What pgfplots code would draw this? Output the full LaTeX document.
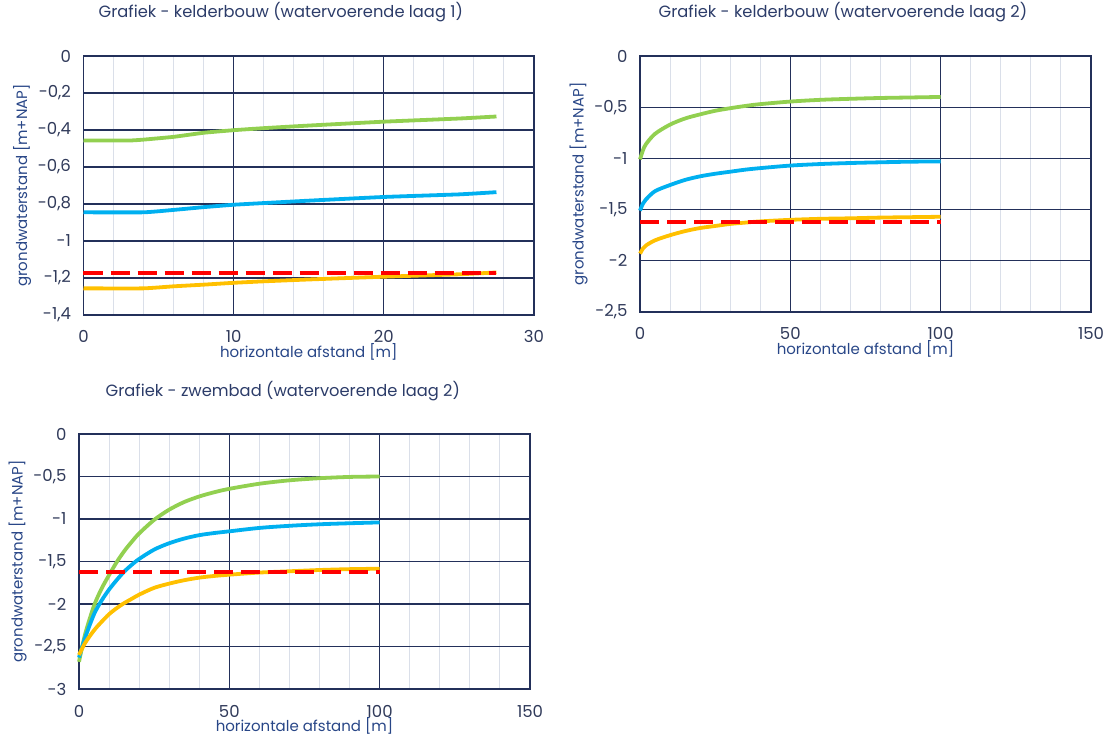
\documentclass[border=0pt]{standalone}
\usepackage{pgfplots}
\pgfplotsset{compat=1.18}
\usepackage{fontspec}
\setmainfont{Poppins}
\definecolor{navy}{RGB}{35,48,90}
\definecolor{minorgray}{RGB}{218,223,233}
\definecolor{cgreen}{RGB}{146,208,80}
\definecolor{cblue}{RGB}{0,176,240}
\definecolor{cyellow}{RGB}{255,192,0}
\definecolor{cred}{RGB}{255,0,0}
\definecolor{ticktext}{RGB}{48,58,90}
\definecolor{labeltext}{RGB}{40,70,135}
\definecolor{titletext}{RGB}{44,60,105}

\pgfplotsset{
  myax/.style={
    scale only axis,
    anchor=north west,
    axis line style={navy, line width=1.4pt},
    major grid style={navy, line width=1.1pt},
    minor grid style={minorgray, line width=1pt},
    xmajorgrids=true, ymajorgrids=true, xminorgrids=true,
    minor x tick num=4,
    major tick length=0pt, minor tick length=0pt,
    tick style={draw=none},
    /pgf/number format/use comma,
    /pgf/number format/assume math mode=true,
    tick label style={font=\fontsize{16.5}{18}\selectfont, text=ticktext},
    xticklabel style={anchor=base, yshift=-28pt},
    yticklabel style={anchor=east, xshift=-9pt},
    xlabel={horizontale afstand [m]},
    ylabel={grondwaterstand [m+NAP]},
    xlabel style={font=\fontsize{15}{17}\selectfont, text=labeltext, at={(axis description cs:0.5,0)}, anchor=center, yshift=-37pt},
    ylabel style={font=\fontsize{15}{17}\selectfont, text=labeltext, at={(axis description cs:-0.136,0.5)}, anchor=center},
    title style={font=\fontsize{16.3}{18}\selectfont, text=titletext, anchor=center, yshift=38pt},
    clip=false,
  },
  gline/.style={cgreen, line width=3.8pt, smooth, tension=0.5},
  bline/.style={cblue, line width=3.8pt, smooth, tension=0.5},
  yline/.style={cyellow, line width=3.8pt, smooth, tension=0.5},
  rline/.style={cred, line width=4pt, dash pattern=on 19pt off 8pt},
}

\begin{document}
\begin{tikzpicture}
\useasboundingbox (0,0) rectangle (1114pt,-738pt);

% Plot 1
\begin{axis}[myax,
  at={(83.5pt,-56pt)}, width=450.5pt, height=259pt,
  xmin=0, xmax=30, ymin=-1.4, ymax=0,
  xtick={0,10,20,30}, ytick={-1.4,-1.2,-1,-0.8,-0.6,-0.4,-0.2,0},
  title={Grafiek - kelderbouw (watervoerende laag 1)},
  title style={at={(axis description cs:0.438,1)}},
]
\addplot[gline, tension=0.25] coordinates {(0,-0.457) (3,-0.457) (4,-0.452) (6,-0.437) (8,-0.415) (10,-0.401) (12,-0.39) (15,-0.376) (20,-0.355) (25,-0.338) (27.5,-0.327)};
\addplot[bline, tension=0.25] coordinates {(0,-0.845) (4,-0.845) (6,-0.832) (8,-0.817) (10,-0.804) (12,-0.795) (15,-0.782) (20,-0.762) (25,-0.748) (27.5,-0.736)};
\addplot[yline, tension=0.25] coordinates {(0,-1.256) (4,-1.256) (6,-1.245) (8,-1.236) (10,-1.226) (12,-1.218) (15,-1.208) (20,-1.193) (25,-1.18) (27.5,-1.17)};
\addplot[rline] coordinates {(0,-1.175) (27.5,-1.175)};
\end{axis}

% Plot 2
\begin{axis}[myax,
  at={(640pt,-56pt)}, width=451pt, height=256pt,
  xmin=0, xmax=150, ymin=-2.5, ymax=0,
  xtick={0,50,100,150}, ytick={-2.5,-2,-1.5,-1,-0.5,0},
  title={Grafiek - kelderbouw (watervoerende laag 2)},
  title style={at={(axis description cs:0.45,1)}},
]
\addplot[gline] coordinates {(0,-1.01) (1,-0.92) (2,-0.86) (5,-0.76) (10,-0.67) (15,-0.61) (20,-0.57) (25,-0.535) (30,-0.51) (35,-0.488) (40,-0.47) (50,-0.445) (60,-0.428) (70,-0.418) (80,-0.41) (90,-0.405) (100,-0.40)};
\addplot[bline] coordinates {(0,-1.51) (1,-1.44) (2,-1.40) (5,-1.32) (10,-1.26) (15,-1.21) (20,-1.175) (25,-1.15) (30,-1.13) (35,-1.11) (40,-1.095) (50,-1.07) (60,-1.055) (70,-1.045) (80,-1.038) (90,-1.032) (100,-1.03)};
\addplot[yline] coordinates {(0,-1.93) (1,-1.88) (2,-1.85) (5,-1.80) (10,-1.75) (15,-1.71) (20,-1.68) (25,-1.66) (30,-1.64) (35,-1.627) (40,-1.615) (50,-1.60) (60,-1.59) (70,-1.585) (80,-1.578) (90,-1.574) (100,-1.57)};
\addplot[rline] coordinates {(0,-1.62) (100,-1.62)};
\end{axis}

% Plot 3
\begin{axis}[myax,
  at={(79pt,-434pt)}, width=451pt, height=255pt,
  xmin=0, xmax=150, ymin=-3, ymax=0,
  xtick={0,50,100,150}, ytick={-3,-2.5,-2,-1.5,-1,-0.5,0},
  title={Grafiek - zwembad (watervoerende laag 2)},
  title style={at={(axis description cs:0.452,1)}, yshift=-1pt},
]
\addplot[gline] coordinates {(0,-2.68) (2,-2.36) (5,-2.02) (7.5,-1.82) (10,-1.66) (12.5,-1.51) (15,-1.38) (17.5,-1.27) (20,-1.17) (25,-1.01) (30,-0.89) (35,-0.80) (40,-0.735) (45,-0.685) (50,-0.645) (60,-0.585) (70,-0.545) (80,-0.52) (90,-0.505) (100,-0.50)};
\addplot[bline] coordinates {(0,-2.63) (2,-2.40) (5,-2.12) (7.5,-1.96) (10,-1.83) (12.5,-1.72) (15,-1.62) (17.5,-1.54) (20,-1.47) (25,-1.36) (30,-1.285) (35,-1.23) (40,-1.19) (45,-1.165) (50,-1.145) (60,-1.105) (70,-1.08) (80,-1.062) (90,-1.05) (100,-1.04)};
\addplot[yline] coordinates {(0,-2.60) (2,-2.46) (5,-2.31) (7.5,-2.21) (10,-2.12) (12.5,-2.05) (15,-1.99) (17.5,-1.94) (20,-1.89) (25,-1.81) (30,-1.76) (35,-1.72) (40,-1.69) (45,-1.67) (50,-1.655) (60,-1.63) (70,-1.615) (80,-1.60) (90,-1.59) (100,-1.585)};
\addplot[rline] coordinates {(0,-1.62) (100,-1.62)};
\end{axis}
\end{tikzpicture}
\end{document}
